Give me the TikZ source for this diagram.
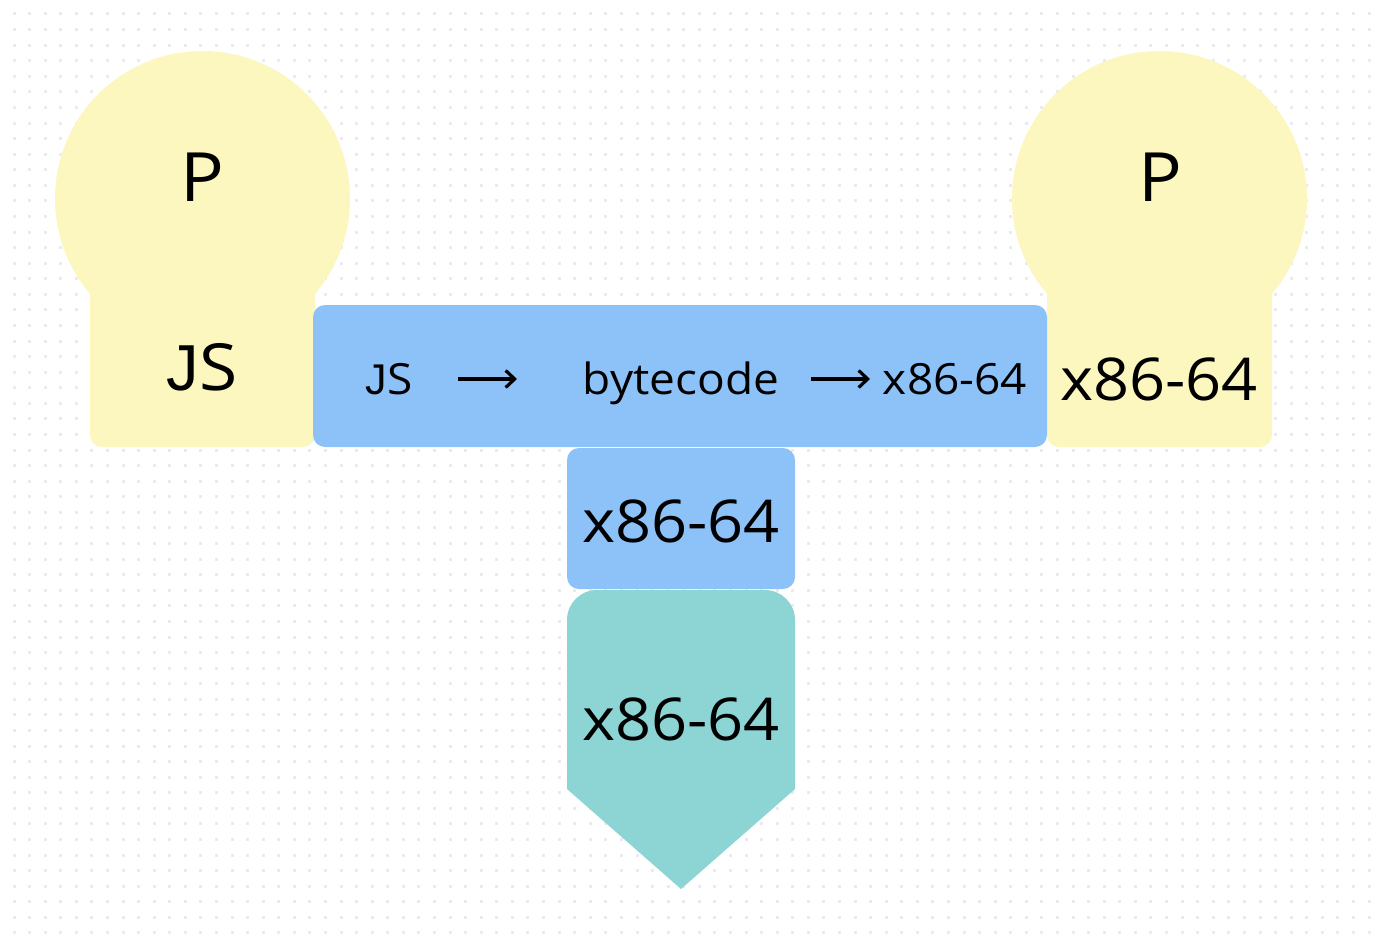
\documentclass[tikz,border=0pt]{standalone}
\usepackage{fontspec}
\setmainfont[FakeStretch=1.07]{Open Sans}
\newfontfamily\jfam{Liberation Sans}
\newcommand{\myJ}{{\jfam J}}
\usetikzlibrary{arrows.meta}
\definecolor{bulb}{RGB}{252,247,190}
\definecolor{barblue}{RGB}{141,194,249}
\definecolor{tealbox}{RGB}{141,212,212}
\definecolor{dotc}{RGB}{234,234,240}
\tikzset{
  lbl/.style={anchor=base, inner sep=0pt, text=black},
  big/.style={lbl, font=\fontsize{59}{59}\selectfont},
  small/.style={lbl, font=\fontsize{43}{43}\selectfont},
  flow/.style={line width=3.2pt, -{Straight Barb[length=9pt,width=17pt,line width=3.2pt]}},
}
\begin{document}
\begin{tikzpicture}[x=1pt,y=-1pt]
  \useasboundingbox (0,0) rectangle (1378,944);
  \fill[white] (0,0) rectangle (1378,944);
  \begin{scope}
    \clip (0,0) rectangle (1378,944);
    \foreach \i in {-1,...,88} {
      \foreach \j in {0,...,59} {
        \fill[dotc] ({14+15.575*\i-1.5},{14+15.575*\j-1.5}) rectangle +(3,3);
      }
    }
  \end{scope}

  % left bulb
  \fill[bulb] (202.5,198.5) circle[radius=147.5];
  \fill[bulb, rounded corners=12] (90,240) rectangle (315,447);
  % right bulb
  \fill[bulb] (1159.5,198.5) circle[radius=147.5];
  \fill[bulb, rounded corners=12] (1047,240) rectangle (1272,447);

  % blue bar
  \fill[barblue, rounded corners=12] (313,305) rectangle (1047,447);
  % middle box
  \fill[barblue, rounded corners=12] (567,448) rectangle (795,589);
  % teal pentagon
  \fill[tealbox] (681,889) -- (567,789) {[rounded corners=30] -- (567,590) -- (795,590)} -- (795,789) -- cycle;

  % texts
  \node[lbl, font=\fontsize{68}{68}\selectfont] (pl) at (202,202) {P};
  \node[lbl, font=\fontsize{65}{65}\selectfont] (jsl) at (202,390) {\myJ S};
  \node[lbl, font=\fontsize{68}{68}\selectfont] (pr) at (1160,202) {P};
  \node[big] (xr) at (1159,400) {x86-64};

  \node[small] (bjs) at (389,394) {\myJ S};
  \node[small] (bbc) at (681,394) {bytecode};
  \node[small] (bx) at (955,394) {x86-64};

  \node[big] (xm) at (681,542) {x86-64};
  \node[big] (xt) at (681,740) {x86-64};

  \coordinate (a1s) at (458,379);
  \coordinate (a1e) at (517,379);
  \coordinate (a2s) at (811,379);
  \coordinate (a2e) at (870,379);
  \draw[flow] (a1s) -- (a1e);
  \draw[flow] (a2s) -- (a2e);
\end{tikzpicture}
\end{document}
